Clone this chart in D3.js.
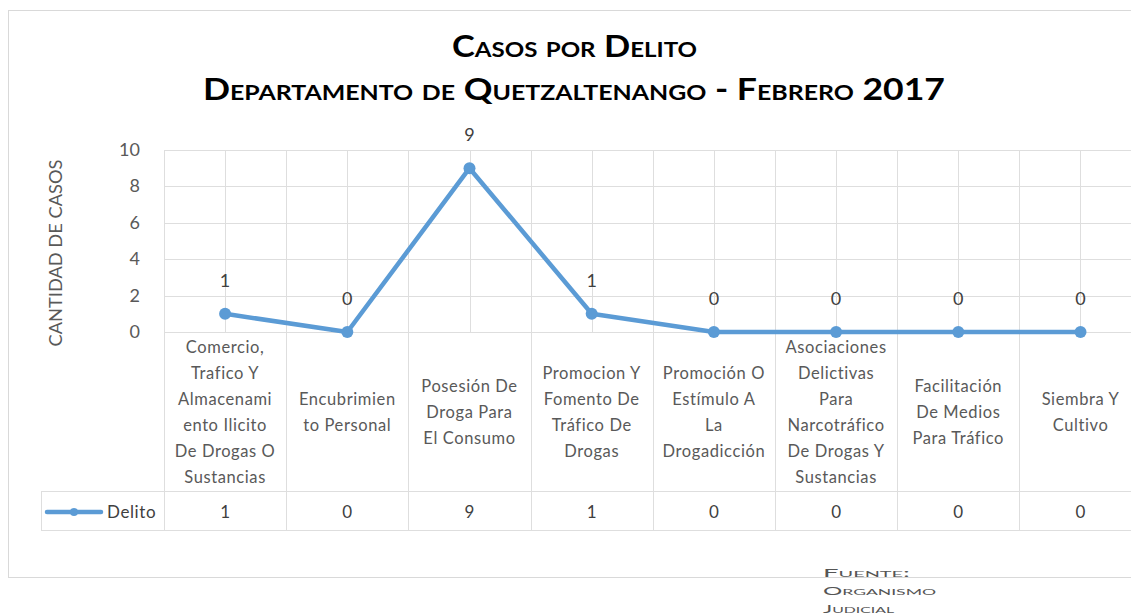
<!DOCTYPE html>
<html>
<head>
<meta charset="utf-8">
<script src="https://cdn.jsdelivr.net/npm/d3@7"></script>
<style>
  body { margin: 0; background: #fff; }
  svg { display: block; font-family: Lato, 'Open Sans', sans-serif; }
</style>
</head>
<body>
<div id="chart"></div>
<script>
// data
const categories = [
  ['Comercio,', 'Trafico Y', 'Almacenami', 'ento Ilicito', 'De Drogas O', 'Sustancias'],
  ['Encubrimien', 'to Personal'],
  ['Posesión De', 'Droga Para', 'El Consumo'],
  ['Promocion Y', 'Fomento De', 'Tráfico De', 'Drogas'],
  ['Promoción O', 'Estímulo A', 'La', 'Drogadicción'],
  ['Asociaciones', 'Delictivas', 'Para', 'Narcotráfico', 'De Drogas Y', 'Sustancias'],
  ['Facilitación', 'De Medios', 'Para Tráfico'],
  ['Siembra Y', 'Cultivo'],
];
const delito = [1, 0, 9, 1, 0, 0, 0, 0];
const yTicks = [0, 2, 4, 6, 8, 10];
const seriesName = 'Delito';
const titleLines = ['Casos por Delito', 'Departamento de Quetzaltenango - Febrero 2017'];
const yTitle = 'CANTIDAD DE CASOS';
const sourceLines = ['Fuente:', 'Organismo', 'Judicial'];
const sourceWidths = [87, 113, 71];

const W = 1131, H = 615;
const blue = '#5b9bd5';
const grid = '#dedede';

const svg = d3.select('#chart').append('svg')
    .attr('width', W).attr('height', H);

// chart border
svg.append('rect')
    .attr('x', 8.5).attr('y', 10.5)
    .attr('width', 1200).attr('height', 567)
    .attr('fill', 'none').attr('stroke', '#d9d9d9');

const plot = {left: 164, right: 1141.6, top: 150, bottom: 332};
const table = {legendLeft: 41, row1: 332, row2: 491, bottom: 530};

const idx = categories.map((c, i) => i);
const x = d3.scaleBand().domain(idx).range([plot.left, plot.right]);
const y = d3.scaleLinear().domain([0, 10]).range([plot.bottom, plot.top]);
const cx = (i) => x(i) + x.bandwidth() / 2;

// horizontal gridlines
svg.append('g').selectAll('line')
    .data(yTicks).enter().append('line')
    .attr('x1', plot.left).attr('x2', W)
    .attr('y1', (d) => Math.round(y(d)) + 0.5)
    .attr('y2', (d) => Math.round(y(d)) + 0.5)
    .attr('stroke', grid);

// vertical gridlines, at category edges and centers
const vLines = [];
idx.forEach((i) => {
  vLines.push(x(i)); vLines.push(cx(i));
});
vLines.push(plot.right);
svg.append('g').selectAll('line')
    .data(vLines).enter().append('line')
    .attr('x1', (d) => Math.round(d) + 0.5).attr('x2', (d) => Math.round(d) + 0.5)
    .attr('y1', plot.top).attr('y2', plot.bottom)
    .attr('stroke', grid);

// y tick labels
svg.append('g').selectAll('text')
    .data(yTicks).enter().append('text')
    .attr('x', 140).attr('y', (d) => y(d) + 6)
    .attr('text-anchor', 'end')
    .attr('font-size', 18).attr('fill', '#595959')
    .text((d) => d);

// y axis title
svg.append('text')
    .attr('transform', 'translate(62,' + 253 + ') rotate(-90)')
    .attr('text-anchor', 'middle')
    .attr('font-size', 17).attr('fill', '#595959')
    .attr('textLength', 187).attr('lengthAdjust', 'spacingAndGlyphs')
    .text(yTitle);

// titles
svg.append('text')
    .attr('x', 574.5).attr('y', 57)
    .attr('text-anchor', 'middle')
    .attr('font-size', 30).attr('font-weight', 700)
    .style('font-variant', 'small-caps')
    .attr('textLength', 245).attr('lengthAdjust', 'spacingAndGlyphs')
    .text(titleLines[0]);
svg.append('text')
    .attr('x', 574).attr('y', 100)
    .attr('text-anchor', 'middle')
    .attr('font-size', 30).attr('font-weight', 700)
    .style('font-variant', 'small-caps')
    .attr('textLength', 742).attr('lengthAdjust', 'spacingAndGlyphs')
    .text(titleLines[1]);

// data table lines
const tg = svg.append('g').attr('stroke', grid).attr('fill', 'none');
[table.row1, table.row2, table.bottom].forEach((yy) => {
  tg.append('line')
      .attr('x1', yy == table.row1 ? plot.left : table.legendLeft)
      .attr('x2', W)
      .attr('y1', yy + 0.5).attr('y2', yy + 0.5);
});
const edges = idx.map((i) => x(i)).concat([plot.right]);
tg.selectAll('line.v').data(edges).enter().append('line')
    .attr('x1', (d) => Math.round(d) + 0.5).attr('x2', (d) => Math.round(d) + 0.5)
    .attr('y1', table.row1).attr('y2', table.bottom);
tg.append('line')
    .attr('x1', table.legendLeft + 0.5).attr('x2', table.legendLeft + 0.5)
    .attr('y1', table.row2).attr('y2', table.bottom);

// category labels
const lineH = 26;
const midRow1 = (table.row1 + table.row2) / 2;
const catG = svg.append('g').selectAll('text')
    .data(categories).enter().append('text')
    .attr('text-anchor', 'middle')
    .attr('font-size', 16.5).attr('fill', '#595959')
    .attr('letter-spacing', 0.6);
catG.selectAll('tspan')
    .data((d, i) => d.map((t, j) => ({t: t, j: j, n: d.length, i: i})))
    .enter().append('tspan')
    .attr('x', (d) => cx(d.i))
    .attr('y', (d) => midRow1 + (d.j - (d.n - 1) / 2) * lineH + 6)
    .text((d) => d.t);

// value row
svg.append('g').selectAll('text')
    .data(delito).enter().append('text')
    .attr('x', (d, i) => cx(i)).attr('y', 518)
    .attr('text-anchor', 'middle')
    .attr('font-size', 17).attr('fill', '#404040')
    .text((d) => d);

// legend key
svg.append('line')
    .attr('x1', 47).attr('x2', 101).attr('y1', 512).attr('y2', 512)
    .attr('stroke', blue).attr('stroke-width', 4.5).attr('stroke-linecap', 'round');
svg.append('circle')
    .attr('cx', 74).attr('cy', 512).attr('r', 4).attr('fill', blue);
svg.append('text')
    .attr('x', 107).attr('y', 518)
    .attr('font-size', 17).attr('fill', '#404040')
    .attr('letter-spacing', 0.6)
    .text(seriesName);

// series line
const line = d3.line()
    .x((d, i) => cx(i))
    .y((d) => y(d));
svg.append('path')
    .datum(delito)
    .attr('d', line)
    .attr('fill', 'none')
    .attr('stroke', blue).attr('stroke-width', 4.5)
    .attr('stroke-linejoin', 'round');
svg.append('g').selectAll('circle')
    .data(delito).enter().append('circle')
    .attr('cx', (d, i) => cx(i)).attr('cy', (d) => y(d))
    .attr('r', 6).attr('fill', blue);

// data labels
svg.append('g').selectAll('text')
    .data(delito).enter().append('text')
    .attr('x', (d, i) => cx(i)).attr('y', (d) => y(d) - 27)
    .attr('text-anchor', 'middle')
    .attr('font-size', 18).attr('fill', '#404040')
    .text((d) => d);

// source note
svg.append('g').selectAll('text')
    .data(sourceLines).enter().append('text')
    .attr('x', 823).attr('y', (d, i) => 577 + i * 18)
    .attr('font-size', 11).attr('fill', '#555')
    .style('font-variant', 'small-caps')
    .attr('textLength', (d, i) => sourceWidths[i])
    .attr('lengthAdjust', 'spacingAndGlyphs')
    .text((d) => d);
</script>
</body>
</html>
